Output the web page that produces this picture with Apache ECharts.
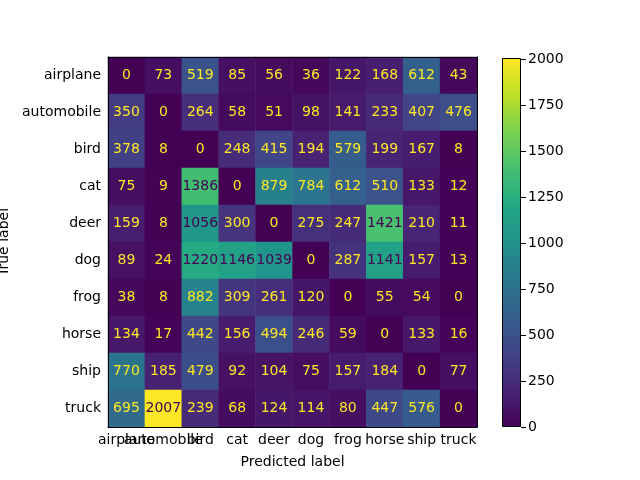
<!DOCTYPE html>
<html>
<head>
<meta charset="utf-8">
<script src="https://cdn.jsdelivr.net/npm/echarts@6/dist/echarts.min.js"></script>
<style>
html, body { margin: 0; padding: 0; background: #fff; }
#chartmain { width: 640px; height: 480px; }
</style>
</head>
<body>
<div id="chartmain"></div>
<script>
var classes = ['airplane', 'automobile', 'bird', 'cat', 'deer', 'dog', 'frog', 'horse', 'ship', 'truck'];
var rowAirplane   = [0, 73, 519, 85, 56, 36, 122, 168, 612, 43];
var rowAutomobile = [350, 0, 264, 58, 51, 98, 141, 233, 407, 476];
var rowBird       = [378, 8, 0, 248, 415, 194, 579, 199, 167, 8];
var rowCat        = [75, 9, 1386, 0, 879, 784, 612, 510, 133, 12];
var rowDeer       = [159, 8, 1056, 300, 0, 275, 247, 1421, 210, 11];
var rowDog        = [89, 24, 1220, 1146, 1039, 0, 287, 1141, 157, 13];
var rowFrog       = [38, 8, 882, 309, 261, 120, 0, 55, 54, 0];
var rowHorse      = [134, 17, 442, 156, 494, 246, 59, 0, 133, 16];
var rowShip       = [770, 185, 479, 92, 104, 75, 157, 184, 0, 77];
var rowTruck      = [695, 2007, 239, 68, 124, 114, 80, 447, 576, 0];
var colorbarTicks = [0, 250, 500, 750, 1000, 1250, 1500, 1750, 2000];

var rows = [rowAirplane, rowAutomobile, rowBird, rowCat, rowDeer, rowDog, rowFrog, rowHorse, rowShip, rowTruck];

// viridis
var viridis = ['#440154', '#482475', '#414487', '#355f8d', '#2a788e', '#21918c',
               '#22a884', '#44bf70', '#7ad151', '#bddf26', '#fde725'];

var vmin = 0, vmax = 0;
rows.forEach(function (r) { r.forEach(function (v) { if (v > vmax) vmax = v; }); });
var thresh = (vmax + vmin) / 2;

var cells = [];
for (var i = 0; i < rows.length; i++) {
	for (var j = 0; j < rows[i].length; j++) {
		var v = rows[i][j];
		cells.push({
			value: [j, i, v],
			label: { color: v >= thresh ? viridis[0] : viridis[viridis.length - 1] }
		});
	}
}

var stops = [];
for (var k = 0; k < viridis.length; k++) {
	stops.push({ offset: 1 - k / (viridis.length - 1), color: viridis[k] });
}

var font = 'DejaVu Sans';
var txt = { color: '#000', fontFamily: font, fontSize: 14 };

var option = {
	animation: false,
	textStyle: { fontFamily: font },
	grid: [
		{ left: 108, top: 57, width: 369, height: 370, outerBoundsMode: 'none', containLabel: false },
		{ left: 502, top: 58, width: 19, height: 369, outerBoundsMode: 'none', containLabel: false }
	],
	visualMap: {
		show: false,
		seriesIndex: 0,
		dimension: 2,
		min: vmin,
		max: vmax,
		inRange: { color: viridis }
	},
	xAxis: [
		{
			type: 'category', gridIndex: 0, data: classes, position: 'bottom', z: 5,
			axisLine: { lineStyle: { color: '#000', width: 1 } },
			axisTick: { alignWithLabel: true, length: 5, lineStyle: { color: '#000' } },
			axisLabel: Object.assign({ margin: 6, interval: 0, hideOverlap: false }, txt),
			splitLine: { show: false },
			name: 'Predicted label', nameLocation: 'middle', nameGap: 28,
			nameTextStyle: txt
		},
		{
			type: 'category', gridIndex: 0, data: classes, position: 'top', z: 5,
			axisLine: { lineStyle: { color: '#000', width: 1 } },
			axisTick: { show: false }, axisLabel: { show: false }
		},
		{
			type: 'category', gridIndex: 1, data: ['c'], show: false
		}
	],
	yAxis: [
		{
			type: 'category', gridIndex: 0, data: classes, inverse: true, position: 'left', z: 5,
			axisLine: { lineStyle: { color: '#000', width: 1 } },
			axisTick: { alignWithLabel: true, length: 5, lineStyle: { color: '#000' } },
			axisLabel: Object.assign({ margin: 7, interval: 0 }, txt),
			name: 'True label', nameLocation: 'middle', nameGap: 95, nameRotate: 90,
			nameTextStyle: txt
		},
		{
			type: 'category', gridIndex: 0, data: classes, inverse: true, position: 'right', z: 5,
			axisLine: { lineStyle: { color: '#000', width: 1 } },
			axisTick: { show: false }, axisLabel: { show: false }
		},
		{
			type: 'value', gridIndex: 1, position: 'right', min: vmin, max: vmax, interval: 250, z: 5,
			axisLine: { show: false },
			axisTick: { show: true, length: 5, lineStyle: { color: '#000' } },
			splitLine: { show: false },
			axisLabel: Object.assign({
				margin: 7, showMaxLabel: false,
				formatter: function (v) { return colorbarTicks.indexOf(v) >= 0 ? String(v) : ''; }
			}, txt)
		}
	],
	series: [
		{
			type: 'heatmap',
			xAxisIndex: 0,
			yAxisIndex: 0,
			data: cells,
			label: { show: true, fontFamily: font, fontSize: 14 },
			itemStyle: { borderWidth: 0 },
			emphasis: { disabled: true }
		},
		{
			type: 'bar',
			xAxisIndex: 2,
			yAxisIndex: 2,
			data: [vmax],
			barWidth: '100%',
			itemStyle: {
				color: { type: 'linear', x: 0, y: 0, x2: 0, y2: 1, colorStops: stops },
				borderColor: '#000',
				borderWidth: 1
			},
			silent: true
		}
	]
};

var myChart = echarts.init(document.getElementById('chartmain'));
myChart.setOption(option);
</script>
</body>
</html>
